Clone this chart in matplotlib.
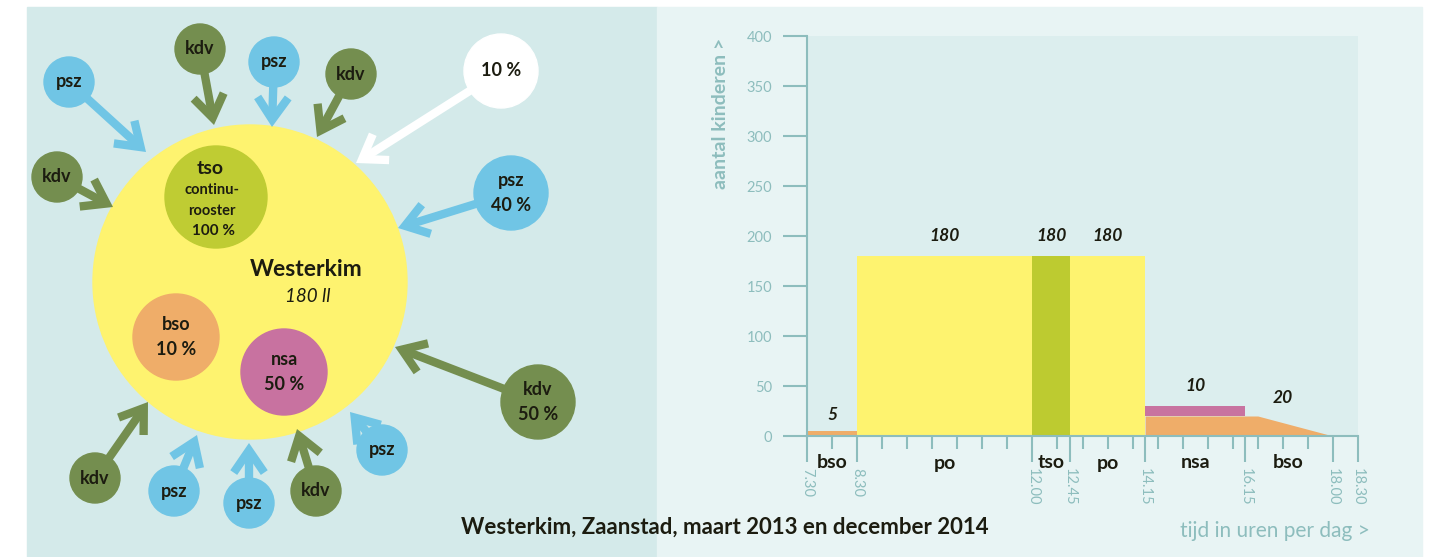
import matplotlib
matplotlib.use('Agg')
import matplotlib.pyplot as plt
from matplotlib.patches import Circle, Rectangle, FancyArrowPatch
from matplotlib.ticker import MultipleLocator, FixedLocator

plt.rcParams['font.family'] = ['Lato', 'DejaVu Sans']

# --- chart data: children present over the day ---
segments = ['bso', 'po', 'tso', 'po', 'nsa', 'bso']
segment_x = [8.0, 10.25, 12.375, 13.5, 15.25, 17.1]
bar_start = [7.5, 8.5, 12.0, 12.75, 14.25]
bar_end = [8.5, 12.0, 12.75, 14.25, 16.25]
bar_base = [0, 0, 0, 0, 20]
bar_value = [5, 180, 180, 180, 10]
bar_colors = ['#efad69', '#fef36f', '#bdcb30', '#fef36f', '#c873a0']
bso_pm_x = [14.25, 16.5, 18.0]
bso_pm_y = [20, 20, 0]
value_labels = ['5', '180', '180', '180', '10', '20']
value_x = [8.0, 10.25, 12.375, 13.5, 15.25, 17.0]
value_y = [21, 200, 200, 200, 50, 38]
time_ticks = [7.5, 8.5, 12.0, 12.75, 14.25, 16.25, 18.0, 18.5]
time_labels = ['7.30', '8.30', '12.00', '12.45', '14.15', '16.15', '18.00', '18.30']

# --- diagram: partners around the school (pixel layout) ---
node_text = ['psz', 'kdv', 'psz', 'kdv', '10 %', 'kdv', 'psz\n40 %',
             'kdv\n50 %', 'kdv', 'psz', 'psz', 'kdv', 'psz']
node_kind = ['psz', 'kdv', 'psz', 'kdv', 'other', 'kdv', 'psz',
             'kdv', 'kdv', 'psz', 'psz', 'kdv', 'psz']
node_xy = [(69, 82), (200, 49), (274, 62), (351, 74), (501, 71), (57, 177),
           (511, 193), (538, 402), (95, 478), (174, 491), (249, 503),
           (316, 491), (382, 450)]
node_r = [25, 25, 25, 25, 37, 25, 37, 37, 25, 25, 25, 25, 25]
arrow_tip = [(146, 152), (214, 125), (272, 127), (317, 137), (356, 163),
             (113, 207), (398, 228), (395, 347), (148, 402), (197, 435),
             (249, 443), (297, 429), (350, 412)]
kind_color = {'psz': '#70c5e5', 'kdv': '#748e4f', 'other': '#ffffff'}

inner_text = ['tso', 'bso\n10 %', 'nsa\n50 %']
inner_xy = [(216, 197), (176, 337), (284, 372)]
inner_r = [51, 43, 43]
inner_color = ['#bfcc33', '#efad69', '#c872a0']

axis_col = '#8dbdbd'
ink = '#1c1c10'

fig = plt.figure(figsize=(14.3, 5.57), dpi=100)
bg = fig.add_axes([0, 0, 1, 1])
bg.set_xlim(0, 1430)
bg.set_ylim(557, 0)
bg.axis('off')

bg.add_patch(Rectangle((27, 7), 630, 550, color='#d4eaea', zorder=0))
bg.add_patch(Rectangle((657, 7), 765, 550, color='#e8f4f4', zorder=0))

# big school circle
bg.add_patch(Circle((250, 282), 157, color='#fef36f', zorder=1))
bg.text(306, 270, 'Westerkim', ha='center', va='center', fontsize=16.5,
        fontweight='bold', color=ink, zorder=5)
bg.text(308, 297, '180 ll', ha='center', va='center', fontsize=13.5,
        fontstyle='italic', color=ink, zorder=5)

for (cx, cy), r, c, t in zip(inner_xy, inner_r, inner_color, inner_text):
    bg.add_patch(Circle((cx, cy), r, color=c, zorder=2))
    if t == 'tso':
        bg.text(cx - 6, cy - 29, 'tso', ha='center', va='center', fontsize=14,
                fontweight='bold', color=ink, zorder=5)
        bg.text(cx - 4, cy - 7, 'continu-', ha='center', va='center',
                fontsize=10.5, fontweight='bold', color=ink, zorder=5)
        bg.text(cx - 4, cy + 14, 'rooster', ha='center', va='center',
                fontsize=10.5, fontweight='bold', color=ink, zorder=5)
        bg.text(cx - 2, cy + 34, '100 %', ha='center', va='center', fontsize=11,
                fontweight='bold', color=ink, zorder=5)
    else:
        bg.text(cx, cy, t, ha='center', va='center', fontsize=13,
                fontweight='bold', color=ink, linespacing=1.55, zorder=5)

for (cx, cy), r, k, t, tip in zip(node_xy, node_r, node_kind, node_text, arrow_tip):
    col = kind_color[k]
    bg.add_patch(FancyArrowPatch((cx, cy), tip,
                                 arrowstyle='->,head_length=0.8,head_width=0.55',
                                 mutation_scale=20, lw=6, color=col,
                                 shrinkA=0, shrinkB=0, joinstyle='miter',
                                 capstyle='butt', zorder=3))
    bg.add_patch(Circle((cx, cy), r, color=col, zorder=4))
    bg.text(cx, cy, t, ha='center', va='center', fontsize=13,
            fontweight='bold', color=ink, linespacing=1.55, zorder=5)

bg.text(725, 527, 'Westerkim, Zaanstad, maart 2013 en december 2014',
        ha='center', va='center', fontsize=16, fontweight='bold', color=ink)
bg.text(1370, 531, 'tijd in uren per dag >', ha='right', va='center',
        fontsize=15, color=axis_col)
bg.text(721, 38, 'aantal kinderen >', ha='center', va='top', rotation=90,
        fontsize=14, fontweight='bold', color=axis_col)

# --- chart ---
ax = fig.add_axes([807 / 1430, 121 / 557, 551 / 1430, 400 / 557])
ax.set_facecolor('#dceeee')
ax.bar(bar_start, bar_value, width=[e - s for s, e in zip(bar_start, bar_end)],
       bottom=bar_base, align='edge', color=bar_colors, linewidth=0, zorder=2)
ax.fill_between(bso_pm_x, 0, bso_pm_y, color='#efad69', linewidth=0, zorder=2)

for t, x, y in zip(value_labels, value_x, value_y):
    ax.text(x, y, t, ha='center', va='center', fontsize=12.5, fontweight='bold',
            fontstyle='italic', color=ink)
for s, x in zip(segments, segment_x):
    ax.text(x, -27, s, ha='center', va='center', fontsize=14,
            fontweight='bold', color=ink, clip_on=False)

ax.set_xlim(7.5, 18.5)
ax.set_ylim(0, 400)
ax.yaxis.set_major_locator(MultipleLocator(50))
ax.xaxis.set_major_locator(FixedLocator(time_ticks))
ax.xaxis.set_minor_locator(MultipleLocator(0.5))
ax.set_xticklabels(time_labels, rotation=-90)
for side in ['top', 'right']:
    ax.spines[side].set_visible(False)
for side in ['left', 'bottom']:
    ax.spines[side].set_color(axis_col)
    ax.spines[side].set_linewidth(1.5)
ax.tick_params(axis='y', length=17, width=1.5, color=axis_col,
               labelcolor=axis_col, labelsize=10.5, pad=8)
ax.tick_params(axis='x', which='major', length=19, width=1.5, color=axis_col,
               labelcolor=axis_col, labelsize=10.5, pad=4)
ax.tick_params(axis='x', which='minor', length=9, width=1.5, color=axis_col)

fig.savefig('out.png', dpi=100)
